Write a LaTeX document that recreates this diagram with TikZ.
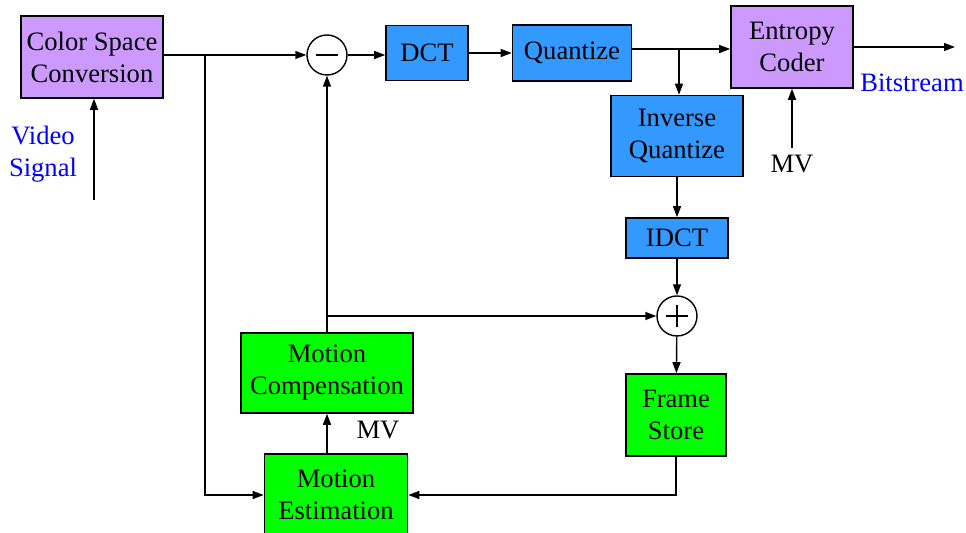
\documentclass[tikz,border=0pt]{standalone}
\usepackage{fontspec}
\setmainfont{Liberation Serif}
\usepackage{xcolor}
\usepackage{tikz}
\usetikzlibrary{arrows.meta,positioning,calc}
\definecolor{lilac}{RGB}{204,153,255}
\definecolor{skyblk}{RGB}{51,153,255}
\definecolor{brgreen}{RGB}{0,255,0}
\definecolor{lbl}{RGB}{0,0,255}

\begin{document}
\begin{tikzpicture}[
  x=0.5pt,y=-0.5pt,
  font=\fontsize{13.3}{16}\selectfont,
  box/.style={draw=black,line width=0.8pt,align=center,inner sep=1pt},
  conv/.style={box,fill=lilac},
  xform/.style={box,fill=skyblk},
  loopbox/.style={box,fill=brgreen},
  junc/.style={circle,draw=black,line width=0.7pt,fill=white,minimum size=20pt,inner sep=0pt},
  note/.style={text=lbl,align=center},
  >={Triangle[length=5.5pt,width=4pt]},
  every path/.style={line width=0.7pt}
]
\useasboundingbox (0,0) rectangle (966,533);
% forward path
\node[conv,minimum width=71pt,minimum height=41pt] (csc) at (92,57) {Color Space\\Conversion};
\node[junc,path picture={\draw (path picture bounding box.center)+(-5.5pt,0) -- +(5.5pt,0);}] (minus) at (327,55) {};
\node[xform,minimum width=41pt,minimum height=27.5pt] (dct) at (427,53) {DCT};
\node[xform,minimum width=59.5pt,minimum height=28pt] (quant) at (572,53) {Quantize};
\node[conv,minimum width=61pt,minimum height=41pt] (ent) at (792,47) {Entropy\\Coder};
\node[note] (vid) at (43,154) {Video\\Signal};
\node[note] (bits) at (912,83) {Bitstream};
\node (mvent) at (792,164) {MV};
% reconstruction
\node[xform,minimum width=66pt,minimum height=40.5pt] (iq) at (677,136) {Inverse\\Quantize};
\node[xform,minimum width=51pt,minimum height=20pt] (idct) at (677,238) {IDCT};
\node[junc,path picture={\draw (path picture bounding box.center)+(-5.5pt,0) -- +(5.5pt,0);
  \draw (path picture bounding box.center)+(0,-5.5pt) -- +(0,5.5pt);}] (plus) at (677,316) {};
\node[loopbox,minimum width=50pt,minimum height=41pt] (fs) at (676,415) {Frame\\Store};
% motion
\node[loopbox,minimum width=86pt,minimum height=40pt] (mc) at (327,373) {Motion\\Compensation};
\node[loopbox,minimum width=71.5pt,minimum height=41pt] (me) at (336,495) {Motion\\Estimation};
\node (mvmc) at (378,430) {MV};
% branch points
\coordinate (vin) at (94,200);
\coordinate (split) at (205,55);
\coordinate (qsplit) at (679,49);
\coordinate (tap) at (328,316);
\coordinate (out) at (955,47);
% arrows
\draw[->] (vin) -- (vin |- csc.south);
\draw (csc.east |- minus) -- (split);
\draw[->] (split) -- (minus.west);
\draw[->] (minus.east) -- (dct.west |- minus);
\draw[->] (dct.east) -- (quant.west);
\draw (quant.east |- qsplit) -- (qsplit);
\draw[->] (qsplit) -- (ent.west |- qsplit);
\draw[->] (ent.east) -- (out);
\draw[->] (mvent.north) -- (mvent.north |- ent.south);
\draw[->] (qsplit) -- (qsplit |- iq.north);
\draw[->] (iq) -- (idct);
\draw[->] (idct) -- (plus);
\draw[->] (plus) -- (fs);
\draw[->] (fs.south) |- (me.east);
\draw[->] (split) |- (me.west);
\draw[->] (mc.south |- me.north) -- (mc.south);
\draw[->] (mc.north) -- (minus.south);
\draw[->] (tap) -- (plus.west);
\end{tikzpicture}
\end{document}
